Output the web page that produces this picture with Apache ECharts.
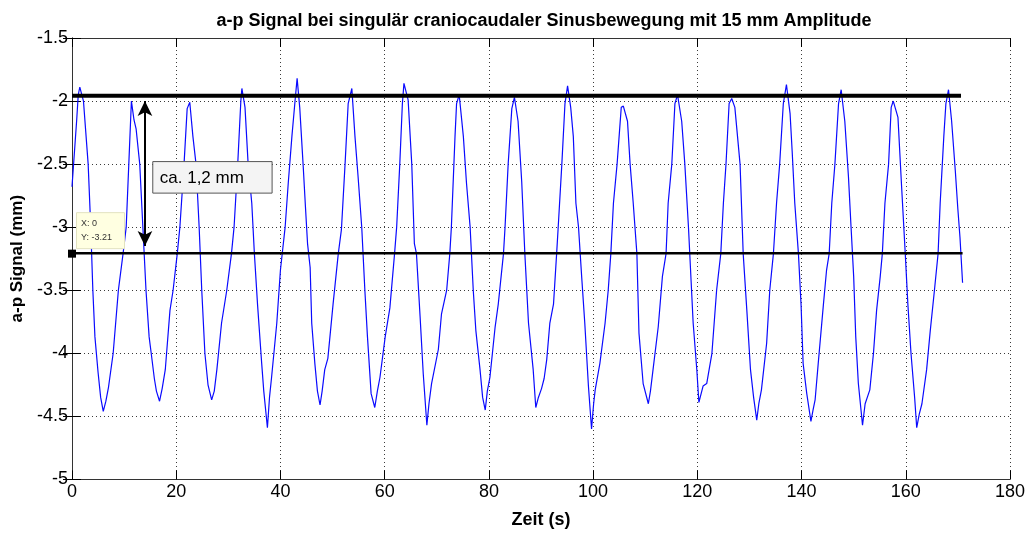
<!DOCTYPE html>
<html>
<head>
<meta charset="utf-8">
<script src="https://cdn.jsdelivr.net/npm/echarts@6/dist/echarts.min.js"></script>
<style>html,body{margin:0;padding:0;background:#fff;}#c{width:1031px;height:533px;}</style>
</head>
<body>
<div id="c"></div>
<script>
// ---- data ----
const titleText = 'a-p Signal bei singulär craniocaudaler Sinusbewegung mit 15 mm Amplitude';
const xName = 'Zeit (s)';
const yName = 'a-p Signal (mm)';
const xTicks = [0, 20, 40, 60, 80, 100, 120, 140, 160, 180];
const yTicks = [-5, -4.5, -4, -3.5, -3, -2.5, -2, -1.5];
const timeS = [
0,0.9,1.2,1.5,2.2,3.1,3.6,4.0,4.4,5.0,5.5,6.0,6.5,7.0,7.9,8.9,9.8,10.4,10.9,11.4,11.5,11.9,12.3,13.0,13.6,14.2,14.8,15.2,15.8,16.2,16.8,17.3,17.9,18.8,19.4,20.2,20.7,21.5,22.1,22.6,23.2,23.8,24.4,24.9,25.5,26.1,26.8,27.3,27.8,28.7,29.7,30.6,31.1,31.8,32.4,32.6,33.2,33.8,34.5,35.0,35.6,36.4,36.8,37.5,37.9,38.3,39.3,40.0,40.9,41.5,42.2,42.8,43.2,43.7,44.4,44.8,45.2,45.7,46.0,46.6,47.1,47.6,48.0,48.5,49.1,50.1,51.1,51.7,52.4,53.0,53.7,54.3,54.9,55.6,56.2,56.7,57.4,58.1,58.6,59.1,60.1,61.0,61.9,62.3,62.9,63.4,63.7,64.5,65.2,65.7,66.1,66.8,67.4,68.1,68.5,69.0,70.3,70.9,71.9,72.5,72.8,73.5,73.8,74.3,75.1,75.7,76.4,77.0,77.5,78.3,78.8,79.3,79.7,80.2,81.2,81.8,82.8,83.1,83.7,84.4,84.9,85.6,86.3,86.9,87.6,88.5,89.0,89.5,90.1,90.6,91.1,91.7,92.4,93.0,93.3,94.0,94.6,95.1,95.7,96.2,96.7,97.2,97.8,98.4,99.1,99.7,100.1,100.4,101.3,102.3,102.9,103.4,103.9,104.6,105.4,105.8,106.6,107.1,107.7,108.4,108.8,109.6,110.6,111.0,111.5,112.5,113.3,114.0,114.4,115.1,115.7,116.2,117.0,117.6,118.3,118.7,119.2,119.9,120.3,121.1,121.8,122.8,123.7,124.5,125.0,125.5,126.1,126.6,127.2,128.2,128.8,129.5,130.2,130.8,131.4,131.8,132.3,133.3,133.9,134.6,135.2,135.8,136.5,137.1,137.8,138.2,138.7,139.4,139.9,140.3,141.0,141.8,142.2,142.6,143.2,144.2,144.8,145.3,145.8,146.4,147.1,147.6,148.3,149.0,149.5,150.0,150.4,150.9,151.7,152.2,153.1,153.8,154.4,155.1,155.5,156.0,156.7,157.2,157.6,158.5,159.2,159.9,160.4,161.0,161.7,162.1,162.6,163.1,164.0,164.7,165.5,166.2,166.6,167.3,167.7,168.2,168.8,169.5,170.0,170.4,170.9];
const apSignal = [
-2.68,-2.15,-1.95,-1.89,-2.0,-2.5,-3.0,-3.5,-3.87,-4.15,-4.35,-4.46,-4.38,-4.27,-4.0,-3.5,-3.21,-3.0,-2.5,-2.0,-1.99,-2.15,-2.22,-2.5,-3.0,-3.5,-3.87,-4.0,-4.2,-4.3,-4.38,-4.28,-4.13,-3.66,-3.5,-3.21,-3.0,-2.5,-2.06,-2.01,-2.28,-2.5,-3.0,-3.5,-4.0,-4.25,-4.37,-4.3,-4.13,-3.76,-3.5,-3.21,-3.0,-2.5,-2.0,-1.9,-2.05,-2.5,-2.81,-3.21,-3.61,-4.08,-4.3,-4.59,-4.35,-4.19,-3.76,-3.34,-3.0,-2.65,-2.28,-2.0,-1.82,-2.05,-2.54,-2.84,-3.13,-3.32,-3.76,-4.08,-4.3,-4.41,-4.3,-4.13,-4.04,-3.61,-3.21,-3.02,-2.5,-2.02,-1.9,-2.28,-2.6,-3.0,-3.5,-3.87,-4.32,-4.43,-4.3,-4.19,-3.87,-3.64,-3.21,-3.0,-2.5,-2.02,-1.86,-1.99,-2.5,-3.13,-3.21,-3.71,-4.16,-4.57,-4.4,-4.24,-3.97,-3.69,-3.5,-3.21,-3.0,-2.28,-2.02,-1.95,-2.28,-2.65,-3.0,-3.5,-3.82,-4.13,-4.35,-4.45,-4.3,-4.19,-3.79,-3.61,-3.21,-3.0,-2.5,-2.06,-1.97,-2.16,-2.64,-3.21,-3.76,-4.13,-4.43,-4.35,-4.28,-4.2,-4.05,-3.76,-3.61,-3.21,-3.0,-2.5,-2.02,-1.88,-2.05,-2.28,-2.81,-3.0,-3.39,-3.76,-4.26,-4.6,-4.4,-4.29,-4.08,-3.76,-3.5,-3.21,-2.81,-2.5,-2.05,-2.04,-2.16,-2.5,-2.81,-3.21,-3.84,-4.24,-4.4,-4.3,-4.13,-3.79,-3.39,-3.21,-2.81,-2.5,-2.02,-1.95,-2.16,-2.5,-3.0,-3.34,-3.76,-4.13,-4.39,-4.26,-4.24,-4.0,-3.5,-3.21,-2.81,-2.5,-2.02,-1.98,-2.05,-2.5,-3.21,-3.66,-4.13,-4.35,-4.53,-4.4,-4.29,-3.92,-3.5,-3.21,-2.81,-2.5,-2.02,-1.87,-2.1,-2.4,-2.81,-3.21,-3.61,-4.08,-4.32,-4.54,-4.45,-4.37,-4.08,-3.61,-3.34,-3.21,-2.81,-2.5,-2.02,-1.91,-2.16,-2.6,-3.0,-3.39,-3.87,-4.24,-4.57,-4.4,-4.29,-4.0,-3.66,-3.39,-3.21,-2.81,-2.5,-2.05,-2.0,-2.13,-2.68,-3.21,-3.61,-4.0,-4.35,-4.59,-4.48,-4.4,-4.13,-3.82,-3.5,-3.21,-2.81,-2.28,-2.02,-1.91,-2.16,-2.55,-2.86,-3.08,-3.44];
const upperLevel = -1.958;   // thick reference line
const lowerLevel = -3.207;   // datatip level
const levelEnd = 170.6;
const arrowX = 14.0, arrowTop = -2.0, arrowBottom = -3.15;
const boxLabel = 'ca. 1,2 mm';
const tipX = 0, tipY = -3.21;
const tipLines = ['X: 0', 'Y: -3.21'];

const FONT = '"Liberation Sans", Arial, sans-serif';
const chart = echarts.init(document.getElementById('c'), null, {renderer: 'canvas'});
const signal = timeS.map((t, i) => [t, apSignal[i]]);
const gridStyle = {show: true, lineStyle: {color: '#3a3a3a', type: [1, 3], width: 1}};
const tick = {show: true, inside: true, length: 9, lineStyle: {color: '#000', width: 1}};
const axLine = {show: true, lineStyle: {color: '#333', width: 1}};

chart.setOption({
  animation: false,
  backgroundColor: '#fff',
  title: {text: titleText, left: 539, textAlign: 'center', top: 7,
    textStyle: {fontFamily: FONT, fontSize: 18, fontWeight: 'bold', color: '#000'}},
  grid: {left: 72, right: 21, top: 38, bottom: 53.6, containLabel: false, outerBoundsMode: 'none'},
  xAxis: [
    {type: 'value', min: 0, max: 180, interval: 20, position: 'bottom',
     name: xName, nameLocation: 'middle', nameGap: 32,
     nameTextStyle: {fontFamily: FONT, fontSize: 18, fontWeight: 'bold', color: '#000'},
     axisLine: axLine, axisTick: tick, splitLine: gridStyle,
     axisLabel: {fontFamily: FONT, fontSize: 18, color: '#000', margin: 4,
       formatter: v => xTicks.includes(v) ? String(v) : ''}},
    {type: 'value', min: 0, max: 180, interval: 20, position: 'top',
     axisLine: axLine, axisTick: tick, splitLine: {show: false}, axisLabel: {show: false}}
  ],
  yAxis: [
    {type: 'value', min: -5, max: -1.5, interval: 0.5, position: 'left',
     name: yName, nameLocation: 'middle', nameGap: 43, nameRotate: 90,
     nameTextStyle: {fontFamily: FONT, fontSize: 17, fontWeight: 'bold', color: '#000'},
     axisLine: axLine, axisTick: tick, splitLine: gridStyle,
     axisLabel: {fontFamily: FONT, fontSize: 18, color: '#000', margin: 4,
       formatter: v => yTicks.some(y => Math.abs(y - v) < 1e-9) ? String(v) : ''}},
    {type: 'value', min: -5, max: -1.5, interval: 0.5, position: 'right',
     axisLine: axLine, axisTick: tick, splitLine: {show: false}, axisLabel: {show: false}}
  ],
  series: [
    {type: 'line', data: signal, showSymbol: false, symbol: 'none',
     lineStyle: {color: '#0a0aff', width: 1.2}, z: 3},
    {type: 'line', data: [[0, upperLevel], [levelEnd, upperLevel]], symbol: 'none',
     lineStyle: {color: '#000', width: 4}, z: 4},
    {type: 'line', data: [[0, lowerLevel], [levelEnd + 0.3, lowerLevel]], symbol: 'none',
     lineStyle: {color: '#000', width: 2.5}, z: 4},
    {type: 'line', data: [[tipX, tipY]], symbol: 'rect', symbolSize: 8,
     itemStyle: {color: '#000'}, z: 6},
    {type: 'line', data: [], z: 5,
     markLine: {silent: true, symbol: ['arrow', 'arrow'], symbolSize: [11, 15], label: {show: false},
       lineStyle: {color: '#000', width: 2, type: 'solid'},
       data: [[{coord: [arrowX, arrowTop]}, {coord: [arrowX, arrowBottom]}]]}}
  ]
});

// annotation boxes placed relative to data coordinates
const p1 = chart.convertToPixel({xAxisIndex: 0, yAxisIndex: 0}, [15.5, -2.48]);
const p2 = chart.convertToPixel({xAxisIndex: 0, yAxisIndex: 0}, [38.4, -2.73]);
const tp = chart.convertToPixel({xAxisIndex: 0, yAxisIndex: 0}, [tipX, tipY]);
chart.setOption({
  graphic: [
    {type: 'rect', z: 100, shape: {x: p1[0], y: p1[1], width: p2[0] - p1[0], height: p2[1] - p1[1]},
     style: {fill: '#f4f4f4', stroke: '#555', lineWidth: 1}},
    {type: 'text', z: 101, x: p1[0] + 7, y: (p1[1] + p2[1]) / 2 + 1,
     style: {text: boxLabel, font: '17px ' + FONT, fill: '#000', verticalAlign: 'middle'}},
    {type: 'rect', z: 100, shape: {x: tp[0] + 4.5, y: tp[1] - 41, width: 48, height: 36},
     style: {fill: '#ffffe1', stroke: '#e2e2c0', lineWidth: 1}},
    {type: 'text', z: 101, x: tp[0] + 9, y: tp[1] - 30,
     style: {text: tipLines[0], font: '9px ' + FONT, fill: '#333', verticalAlign: 'middle'}},
    {type: 'text', z: 101, x: tp[0] + 9, y: tp[1] - 16,
     style: {text: tipLines[1], font: '9px ' + FONT, fill: '#333', verticalAlign: 'middle'}}
  ]
});
</script>
</body>
</html>
